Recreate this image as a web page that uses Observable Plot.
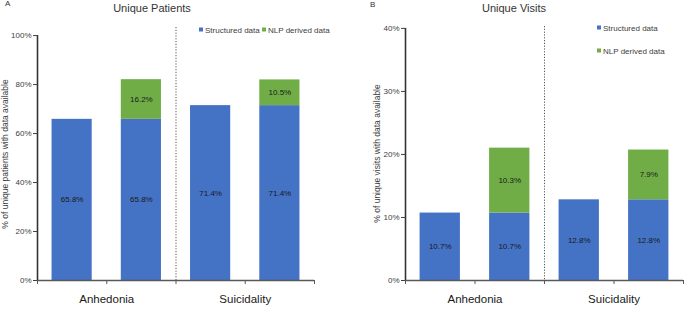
<!DOCTYPE html>
<html><head><meta charset="utf-8">
<script src="https://cdn.jsdelivr.net/npm/d3@7"></script>
<script src="https://cdn.jsdelivr.net/npm/@observablehq/plot@0.6"></script>
<style>
body{margin:0;background:#fff;font-family:"Liberation Sans",Arial,sans-serif;}
#wrap{position:relative;width:685px;height:310px;overflow:hidden;}
.abs{position:absolute;white-space:nowrap;color:#404040;}
.title{font-size:11px;color:#333;transform:translate(-50%,-50%);}
.letter{font-size:8px;color:#333;}
.leg{font-size:8px;transform:translateY(-50%);}
.sw{display:inline-block;width:4px;height:4px;margin-right:2px;vertical-align:middle;position:relative;top:-1px;}
</style></head><body>
<div id="wrap"></div>
<script>
const groups = ["Anhedonia", "Suicidality"];
const seriesNames = ["Structured data", "NLP derived data"];
const seriesColors = ["#4472C4", "#70AD47"];
const patientsStructured = [65.8, 71.4];
const patientsNlp = [16.2, 10.5];
const visitsStructured = [10.7, 12.8];
const visitsNlp = [10.3, 7.9];
const yTicksA = [0, 20, 40, 60, 80, 100];
const yTicksB = [0, 10, 20, 30, 40];
const titles = ["Unique Patients", "Unique Visits"];
const yLabels = ["% of unique patients with data available", "% of unique visits with data available"];

function buildRows(structured, nlp) {
  const rows = [];
  groups.forEach((g, i) => {
    rows.push({slot: 2*i, series: seriesNames[0], y1: 0, y2: structured[i], v: structured[i]});
    rows.push({slot: 2*i+1, series: seriesNames[0], y1: 0, y2: structured[i], v: structured[i]});
    rows.push({slot: 2*i+1, series: seriesNames[1], y1: structured[i], y2: structured[i] + nlp[i], v: nlp[i]});
  });
  return rows;
}

function panel({structured, nlp, yTicks, yMax, width, marginLeft, marginRight, marginTop, yLabel, labelDx}) {
  const rows = buildRows(structured, nlp);
  const yTop = yTicks[yTicks.length - 1];
  return Plot.plot({
    width, height: 310, marginLeft, marginRight, marginTop, marginBottom: 30,
    style: {fontFamily: "Liberation Sans, Arial, sans-serif", background: "white", color: "#404040"},
    x: {domain: [0, 4], axis: null},
    y: {domain: [0, yMax], axis: null},
    color: {domain: seriesNames, range: seriesColors},
    marks: [
      Plot.rectY(rows, {x1: d => d.slot + 0.21, x2: d => d.slot + 0.79, y1: "y1", y2: "y2", fill: "series"}),
      Plot.text(rows, {x: d => d.slot + 0.5, y: d => (d.y1 + d.y2) / 2, text: d => d.v.toFixed(1) + "%", fontSize: 8, fill: "#1a1a1a"}),
      Plot.ruleX([2], {stroke: "#555", strokeDasharray: "1.2,1.6", strokeWidth: 1}),
      Plot.ruleY([0], {stroke: "#595959", strokeWidth: 1.5}),
      Plot.ruleX([0], {y1: 0, y2: yTop, stroke: "#333", strokeWidth: 1.6}),
      Plot.axisY({ticks: yTicks, tickFormat: d => d + "%", tickSize: 4, tickPadding: 2, fontSize: 8, stroke: "#404040", fill: "#404040", label: null}),
      Plot.axisX({ticks: [0, 1, 2, 3, 4], tickFormat: () => "", tickSize: 4, stroke: "#595959", label: null}),
      Plot.text(groups, {x: (d, i) => 2*i + 1, y: 0, dy: 19, text: d => d, fontSize: 11.5, fill: "#1a1a1a"}),
      Plot.text([yLabel], {frameAnchor: "left", rotate: -90, textAnchor: "middle", dx: labelDx, fontSize: 8.5, fill: "#404040"})
    ]
  });
}

const wrap = document.getElementById("wrap");
const svgA = panel({structured: patientsStructured, nlp: patientsNlp, yTicks: yTicksA, yMax: 103.3, width: 340, marginLeft: 37, marginRight: 26, marginTop: 27, yLabel: yLabels[0], labelDx: -32});
const svgB = panel({structured: visitsStructured, nlp: visitsNlp, yTicks: yTicksB, yMax: 40.3, width: 345, marginLeft: 65, marginRight: 2, marginTop: 26, yLabel: yLabels[1], labelDx: -28});
svgA.style.position = "absolute"; svgA.style.left = "0px"; svgA.style.top = "0px";
svgB.style.position = "absolute"; svgB.style.left = "340px"; svgB.style.top = "0px";
wrap.appendChild(svgA); wrap.appendChild(svgB);

function add(html, cls, x, y) {
  const d = document.createElement("div");
  d.className = "abs " + cls; d.style.left = x + "px"; d.style.top = y + "px"; d.innerHTML = html;
  wrap.appendChild(d);
}
const sw = i => `<span class="sw" style="background:${seriesColors[i]}"></span>${seriesNames[i]}`;
add("A", "letter", 5, -1);
add("B", "letter", 370, 0);
add(titles[0], "title", 152, 8);
add(titles[1], "title", 514, 8);
add(sw(0), "leg", 199, 30);
add(sw(1), "leg", 262, 30);
add(sw(0), "leg", 597, 28);
add(sw(1), "leg", 597, 51);
</script></body></html>
